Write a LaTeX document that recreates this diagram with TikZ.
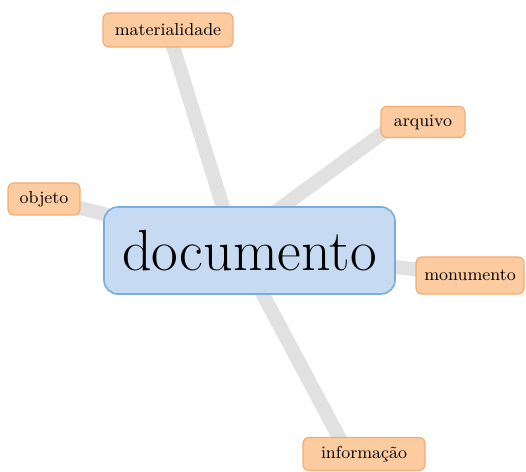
\documentclass[tikz,border=0pt]{standalone}
\usepackage{tikz}
\usetikzlibrary{positioning,backgrounds}

\definecolor{hubfill}{RGB}{198,219,241}
\definecolor{hubline}{RGB}{122,172,222}
\definecolor{leaffill}{RGB}{252,204,160}
\definecolor{leafline}{RGB}{242,172,112}
\definecolor{linkgray}{RGB}{225,225,225}

\begin{document}
\begin{tikzpicture}[x=0.5pt,y=-0.5pt,
  hub/.style={draw=hubline,fill=hubfill,line width=0.8pt,rounded corners=7pt,
    minimum width=145.5pt,minimum height=43.5pt,inner sep=0pt,
    font=\fontsize{29}{33}\selectfont},
  leaf/.style={draw=leafline,fill=leaffill,line width=0.6pt,rounded corners=3pt,
    inner sep=0pt,minimum height=16pt,font=\fontsize{8.7}{10}\selectfont},
  link/.style={draw=linkgray,line width=7pt}]
\useasboundingbox (0,0) rectangle (526,472);

% nodes
\node[hub] (doc) at (249.5,250.5) {documento};
\node[leaf,minimum width=65pt,minimum height=17pt] (mat) at (168,30) {materialidade};
\node[leaf,minimum width=42pt,minimum height=15.5pt] (arq) at (423,122) {arquivo};
\node[leaf,minimum width=36pt] (obj) at (44,199) {objeto};
\node[leaf,minimum width=54pt,minimum height=18.5pt] (mon) at (470,275.5) {monumento};
\node[leaf,minimum width=61pt,minimum height=16.5pt] (inf) at (364,454) {informação};

% links, behind the boxes
\begin{scope}[on background layer]
\draw[link] (mat.center) -- ([xshift=-6.5pt]doc.center);
\draw[link] ([xshift=-12.5pt]arq.center) -- ([xshift=-13.5pt]doc.center);
\draw[link] (obj.center) -- (doc.center);
\draw[link] (mon.center) -- (doc.center);
\draw[link] ([xshift=-8pt]inf.center) -- ([xshift=-5pt]doc.center);
\end{scope}
\end{tikzpicture}
\end{document}
